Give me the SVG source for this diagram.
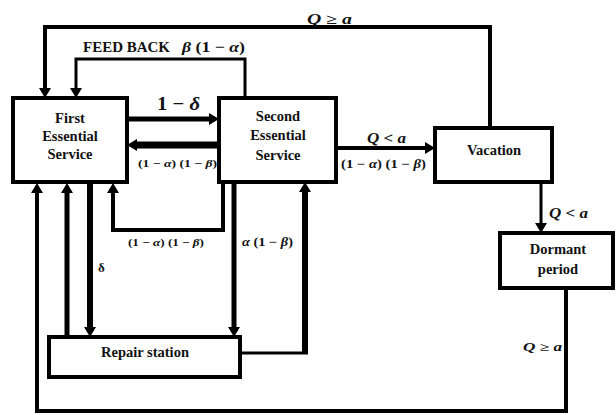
<svg xmlns="http://www.w3.org/2000/svg" width="616" height="415" viewBox="0 0 616 415">
<style>
.box{fill:#fff;stroke:#000;stroke-width:4}
.lbl{font-family:"Liberation Serif","Times New Roman",serif;font-weight:bold;font-size:14.5px;text-anchor:middle;fill:#111}
.math{font-family:"Liberation Serif","Times New Roman",serif;font-weight:bold;fill:#111}
.it{font-style:italic}
.c{fill:none;stroke:#000;stroke-linejoin:miter}
</style>
<defs>
<marker id="ah" markerUnits="userSpaceOnUse" markerWidth="12" markerHeight="12" viewBox="0 0 10 12" refX="0" refY="6" orient="auto">
<path d="M0,0 L10,6 L0,12 z" fill="#000"/>
</marker>
</defs>
<g id="connectors">
<path class="c" stroke-width="4" d="M490,128 V27 H45 V88" marker-end="url(#ah)"/>
<path class="c" stroke-width="3" d="M245,98 V59 H76 V88" marker-end="url(#ah)"/>
<path class="c" stroke-width="5" d="M127,119 H209" marker-end="url(#ah)"/>
<path class="c" stroke-width="7" d="M219,145 H137" marker-end="url(#ah)"/>
<path class="c" stroke-width="4" d="M336,148 H425" marker-end="url(#ah)"/>
<path class="c" stroke-width="3" d="M541,182 V223" marker-end="url(#ah)"/>
<path class="c" stroke-width="4" d="M566,288 V411 H37 V193" marker-end="url(#ah)"/>
<path class="c" stroke-width="4" d="M223,182 V230 H113 V193" marker-end="url(#ah)"/>
<path class="c" stroke-width="5" d="M67,337 V193" marker-end="url(#ah)"/>
<path class="c" stroke-width="6" d="M90,183 V327" marker-end="url(#ah)"/>
<path class="c" stroke-width="5" d="M234,182 V327" marker-end="url(#ah)"/>
<g id="repair-to-second">
<path class="c" stroke-width="3" d="M240,353 H308"/>
<path class="c" stroke-width="6" d="M305,354 V192" marker-end="url(#ah)"/>
</g>
</g>
<g id="first">
<rect class="box" x="13" y="98" width="114" height="84"/>
<text class="lbl" x="70" y="123">First</text>
<text class="lbl" x="70" y="141">Essential</text>
<text class="lbl" x="70" y="159">Service</text>
</g>
<g id="second">
<rect class="box" x="219" y="98" width="117" height="84"/>
<text class="lbl" x="278" y="121">Second</text>
<text class="lbl" x="278" y="140">Essential</text>
<text class="lbl" x="278" y="160">Service</text>
</g>
<g id="vacation">
<rect class="box" x="435" y="128" width="117" height="54"/>
<text class="lbl" x="494" y="155">Vacation</text>
</g>
<g id="dormant">
<rect class="box" x="500" y="233" width="113" height="55"/>
<text class="lbl" x="558" y="254">Dormant</text>
<text class="lbl" x="558" y="274">period</text>
</g>
<g id="repair">
<rect class="box" x="49" y="337" width="191" height="40"/>
<text class="lbl" x="145" y="357">Repair station</text>
</g>
<g id="labels">
<text class="math" x="307" y="24" font-size="14" textLength="45" lengthAdjust="spacingAndGlyphs"><tspan class="it">Q</tspan> ≥ <tspan class="it">a</tspan></text>
<text class="math" x="83" y="52" font-size="14.5" textLength="87" lengthAdjust="spacingAndGlyphs">FEED BACK</text>
<text class="math" x="182" y="52" font-size="15" textLength="63" lengthAdjust="spacingAndGlyphs"><tspan class="it">β</tspan> (1 − <tspan class="it">α</tspan>)</text>
<text class="math" x="157" y="110" font-size="19" textLength="43" lengthAdjust="spacingAndGlyphs">1 − <tspan class="it">δ</tspan></text>
<text class="math" x="138" y="167" font-size="11" textLength="79" lengthAdjust="spacingAndGlyphs">(1 − <tspan class="it">α</tspan>) (1 − <tspan class="it">β</tspan>)</text>
<text class="math" x="367" y="143" font-size="15" textLength="39" lengthAdjust="spacingAndGlyphs"><tspan class="it">Q</tspan> &lt; <tspan class="it">a</tspan></text>
<text class="math" x="341" y="168" font-size="12" textLength="85" lengthAdjust="spacingAndGlyphs">(1 − <tspan class="it">α</tspan>) (1 − <tspan class="it">β</tspan>)</text>
<text class="math" x="549" y="218" font-size="15" textLength="39" lengthAdjust="spacingAndGlyphs"><tspan class="it">Q</tspan> &lt; <tspan class="it">a</tspan></text>
<text class="math" x="523" y="351" font-size="11.5" textLength="39" lengthAdjust="spacingAndGlyphs"><tspan class="it">Q</tspan> ≥ <tspan class="it">a</tspan></text>
<text class="math" x="128" y="246" font-size="11" textLength="76" lengthAdjust="spacingAndGlyphs">(1 − <tspan class="it">α</tspan>) (1 − <tspan class="it">β</tspan>)</text>
<text class="math" x="242" y="246" font-size="12" textLength="51" lengthAdjust="spacingAndGlyphs"><tspan class="it">α</tspan> (1 − <tspan class="it">β</tspan>)</text>
<text class="math" x="98" y="272" font-size="13">δ</text>
</g>
</svg>
